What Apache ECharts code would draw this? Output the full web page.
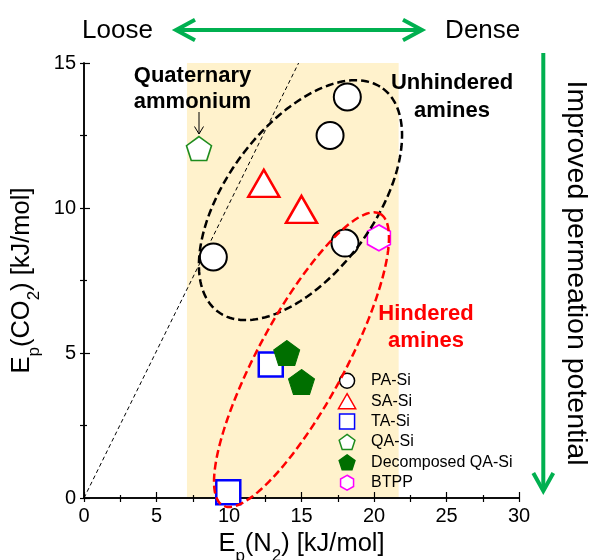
<!DOCTYPE html>
<html>
<head>
<meta charset="utf-8">
<script src="https://cdn.jsdelivr.net/npm/echarts@6/dist/echarts.min.js"></script>
<style>
  html, body { margin: 0; padding: 0; background: #fff; }
  #chart { width: 592px; height: 560px; }
</style>
</head>
<body>
<div id="chart"></div>
<script>
// Activation energies of permeation, Ep(N2) vs Ep(CO2), in kJ/mol
const paSi = [[8.92, 8.31], [16.97, 12.5], [18.16, 13.83], [18.0, 8.79]];
const saSi = [[12.4, 10.85], [15.0, 9.95]];
const taSi = [[12.88, 4.6], [9.95, 0.2]];
const qaSi = [[7.93, 12.05]];
const decomposedQaSi = [[13.98, 5.0], [15.0, 4.0]];
const btpp = [[20.34, 8.97]];

// Ep(CO2) = Ep(N2) guide line
const parityLine = [[0, 0], [14.8, 15]];

// Shaded Ep(N2) band
const shadeBand = [[7.1, 21.7]];

// Group envelopes: centre (x, y) and two conjugate semi-axis vectors, in data units
const unhinderedEnvelope = [[14.93, 10.27, 5.68, 3.85, 4.10, -1.51]];
const hinderedEnvelope = [[15.0, 4.77, 5.42, 5.03, 2.65, -0.71]];

const xTicks = { min: 0, max: 30, step: 5 };
const yTicks = { min: 0, max: 15, step: 5 };

const FONT = '"Liberation Sans", Arial, Helvetica, sans-serif';

const PENTAGON = 'path://M50 0 L97.55 34.55 L79.39 90.45 L20.61 90.45 L2.45 34.55 Z';
const HEXAGON = 'path://M50 0 L93.3 25 L93.3 75 L50 100 L6.7 75 L6.7 25 Z';
const TRIANGLE = 'path://M50 0 L100 87 L0 87 Z';
const SQUARE = 'path://M0 0 L100 0 L100 100 L0 100 Z';

const chart = echarts.init(document.getElementById('chart'), null, { renderer: 'canvas' });

function envelopeRenderer(color) {
  return function (params, api) {
    const cx = api.value(0), cy = api.value(1);
    const ux = api.value(2), uy = api.value(3);
    const vx = api.value(4), vy = api.value(5);
    const pts = [];
    const n = 180;
    for (let i = 0; i <= n; i++) {
      const t = (i / n) * Math.PI * 2;
      pts.push(api.coord([cx + ux * Math.cos(t) + vx * Math.sin(t),
                          cy + uy * Math.cos(t) + vy * Math.sin(t)]));
    }
    return {
      type: 'polyline',
      shape: { points: pts },
      style: { stroke: color, lineWidth: 2.5, lineDash: [8, 4], fill: null }
    };
  };
}

const axisNameRich = {
  m: { fontSize: 25.5, fontFamily: FONT, color: '#000', verticalAlign: 'middle' },
  s: { fontSize: 17, fontFamily: FONT, color: '#000', padding: [24, 0, 0, 0], verticalAlign: 'middle' }
};

const frameLine = { show: true, lineStyle: { color: '#000', width: 1.5 } };

const option = {
  animation: false,
  backgroundColor: '#fff',
  grid: { left: 84, right: 73, top: 63, bottom: 62, containLabel: false, outerBoundsMode: 'none' },
  xAxis: [
    {
      type: 'value', position: 'bottom',
      min: xTicks.min, max: xTicks.max, interval: xTicks.step,
      axisLine: frameLine,
      axisTick: { inside: true, length: 6, lineStyle: { color: '#000', width: 1.2 } },
      minorTick: { show: true, splitNumber: 2, length: 3, lineStyle: { color: '#000', width: 1.2 } },
      splitLine: { show: false },
      axisLabel: { color: '#000', fontSize: 20, fontFamily: FONT, margin: 8 },
      name: '{m|E}{s|p}{m|(N}{s|2}{m|) [kJ/mol]}',
      nameLocation: 'middle',
      nameGap: 18,
      nameTextStyle: { rich: axisNameRich }
    },
    {
      type: 'value', position: 'top',
      min: xTicks.min, max: xTicks.max, interval: 2.5,
      axisLine: frameLine,
      axisTick: { inside: true, length: 4, lineStyle: { color: '#000', width: 1.2 } },
      axisLabel: { show: false },
      splitLine: { show: false }
    }
  ],
  yAxis: [
    {
      type: 'value', position: 'left',
      min: yTicks.min, max: yTicks.max, interval: yTicks.step,
      axisLine: frameLine,
      axisTick: { inside: true, length: 6, lineStyle: { color: '#000', width: 1.2 } },
      minorTick: { show: true, splitNumber: 2, length: 3, lineStyle: { color: '#000', width: 1.2 } },
      splitLine: { show: false },
      axisLabel: { color: '#000', fontSize: 20, fontFamily: FONT, margin: 8 },
      name: '{m|E}{s|p}{m|(CO}{s|2}{m|) [kJ/mol]}',
      nameLocation: 'middle',
      nameGap: 29,
      nameTextStyle: { rich: axisNameRich }
    },
    {
      type: 'value', position: 'right',
      min: yTicks.min, max: yTicks.max, interval: 2.5,
      axisLine: frameLine,
      axisTick: { inside: true, length: 4, lineStyle: { color: '#000', width: 1.2 } },
      axisLabel: { show: false },
      splitLine: { show: false }
    }
  ],
  legend: {
    data: ['PA-Si', 'SA-Si', 'TA-Si', 'QA-Si', 'Decomposed QA-Si', 'BTPP'],
    orient: 'vertical',
    left: 337.7, top: 372.5,
    padding: 0,
    itemWidth: 18, itemHeight: 15, itemGap: 3.9,
    symbolKeepAspect: true,
    itemStyle: { borderWidth: 1.5 },
    formatter: name => '{t|' + name + '}',
    textStyle: {
      color: '#000', fontSize: 16, fontFamily: FONT, lineHeight: 15,
      rich: { t: { fontSize: 16, fontFamily: FONT, color: '#000', lineHeight: 15, padding: [0, 0, 0, 10] } }
    }
  },
  series: [
    {
      name: 'band', type: 'custom', z: 0, silent: true,
      encode: { x: [0, 1] },
      data: shadeBand,
      renderItem: function (params, api) {
        const p0 = api.coord([api.value(0), yTicks.max]);
        const p1 = api.coord([api.value(1), yTicks.min]);
        return {
          type: 'rect',
          shape: { x: p0[0], y: p0[1], width: p1[0] - p0[0], height: p1[1] - p0[1] },
          style: { fill: '#FFF2CC' }
        };
      }
    },
    {
      name: 'parity', type: 'line', z: 1, silent: true,
      data: parityLine, symbol: 'none',
      lineStyle: { color: '#000', width: 1, type: [4, 3] }
    },
    {
      name: 'PA-Si', type: 'scatter', z: 3, data: paSi,
      symbol: 'circle', symbolSize: 27,
      itemStyle: { color: '#fff', borderColor: '#000', borderWidth: 2, opacity: 1 }
    },
    {
      name: 'SA-Si', type: 'scatter', z: 3, data: saSi,
      symbol: TRIANGLE, symbolSize: [31, 27],
      itemStyle: { color: '#fff', borderColor: '#FF0000', borderWidth: 2.5, opacity: 1 }
    },
    {
      name: 'TA-Si', type: 'scatter', z: 3, data: taSi,
      symbol: SQUARE, symbolSize: [24, 24],
      itemStyle: { color: '#fff', borderColor: '#0000FF', borderWidth: 2.5, opacity: 1 }
    },
    {
      name: 'QA-Si', type: 'scatter', z: 3, data: qaSi,
      symbol: PENTAGON, symbolSize: [25, 24],
      itemStyle: { color: '#fff', borderColor: '#1E8C1E', borderWidth: 1.6, opacity: 1 }
    },
    {
      name: 'Decomposed QA-Si', type: 'scatter', z: 3, data: decomposedQaSi,
      symbol: PENTAGON, symbolSize: [26, 25],
      itemStyle: { color: '#006F00', borderColor: '#006F00', borderWidth: 1, opacity: 1 }
    },
    {
      name: 'BTPP', type: 'scatter', z: 3, data: btpp,
      symbol: HEXAGON, symbolSize: [23, 26],
      itemStyle: { color: '#fff', borderColor: '#FF00FF', borderWidth: 1.6, opacity: 1 }
    },
    {
      name: 'unhindered envelope', type: 'custom', z: 4, silent: true,
      encode: { x: 0, y: 1 },
      data: unhinderedEnvelope,
      renderItem: envelopeRenderer('#000')
    },
    {
      name: 'hindered envelope', type: 'custom', z: 4, silent: true,
      encode: { x: 0, y: 1 },
      data: hinderedEnvelope,
      renderItem: envelopeRenderer('#FF0000')
    }
  ],
  graphic: [
    // Loose <-> Dense scale above the plot
    { type: 'text', x: 117.5, y: 31, z: 10,
      style: { text: 'Loose', fontSize: 26, fontFamily: FONT, fill: '#000',
               align: 'center', verticalAlign: 'middle', textAlign: 'center', textVerticalAlign: 'middle' } },
    { type: 'text', x: 482.7, y: 30.5, z: 10,
      style: { text: 'Dense', fontSize: 26, fontFamily: FONT, fill: '#000',
               align: 'center', verticalAlign: 'middle', textAlign: 'center', textVerticalAlign: 'middle' } },
    { type: 'line', z: 10, shape: { x1: 177, y1: 30, x2: 421, y2: 30 },
      style: { stroke: '#00B050', lineWidth: 4 } },
    { type: 'polyline', z: 10, shape: { points: [[195, 19.7], [176, 30], [195, 40.3]] },
      style: { stroke: '#00B050', lineWidth: 4, fill: null, lineJoin: 'miter' } },
    { type: 'polyline', z: 10, shape: { points: [[403, 19.7], [422, 30], [403, 40.3]] },
      style: { stroke: '#00B050', lineWidth: 4, fill: null, lineJoin: 'miter' } },

    // Improved permeation potential arrow on the right
    { type: 'line', z: 10, shape: { x1: 543.3, y1: 53, x2: 543.3, y2: 489 },
      style: { stroke: '#00B050', lineWidth: 4 } },
    { type: 'polyline', z: 10, shape: { points: [[533.3, 473], [543.3, 491], [553.3, 473]] },
      style: { stroke: '#00B050', lineWidth: 4, fill: null, lineJoin: 'miter' } },
    { type: 'text', x: 575.5, y: 273, rotation: -Math.PI / 2, z: 10,
      style: { text: 'Improved permeation potential', fontSize: 28.5, fontFamily: FONT, fill: '#000',
               align: 'center', verticalAlign: 'middle', textAlign: 'center', textVerticalAlign: 'middle' } },

    // Group annotations inside the plot
    { type: 'text', x: 192.5, y: 89.3, z: 10,
      style: { text: 'Quaternary\nammonium', fontSize: 22, fontWeight: 'bold', fontFamily: FONT, fill: '#000',
               lineHeight: 26, align: 'center', verticalAlign: 'middle', textAlign: 'center', textVerticalAlign: 'middle' } },
    { type: 'line', z: 10, shape: { x1: 199, y1: 112, x2: 199, y2: 134 },
      style: { stroke: '#000', lineWidth: 1 } },
    { type: 'polyline', z: 10, shape: { points: [[194.5, 126.5], [199, 134], [203.5, 126.5]] },
      style: { stroke: '#000', lineWidth: 1, fill: null } },
    { type: 'text', x: 452, y: 97.3, z: 10,
      style: { text: 'Unhindered\namines', fontSize: 22, fontWeight: 'bold', fontFamily: FONT, fill: '#000',
               lineHeight: 28, align: 'center', verticalAlign: 'middle', textAlign: 'center', textVerticalAlign: 'middle' } },
    { type: 'text', x: 426, y: 327.3, z: 10,
      style: { text: 'Hindered\namines', fontSize: 22, fontWeight: 'bold', fontFamily: FONT, fill: '#FF0000',
               lineHeight: 26.6, align: 'center', verticalAlign: 'middle', textAlign: 'center', textVerticalAlign: 'middle' } }
  ]
};

chart.setOption(option);
</script>
</body>
</html>
